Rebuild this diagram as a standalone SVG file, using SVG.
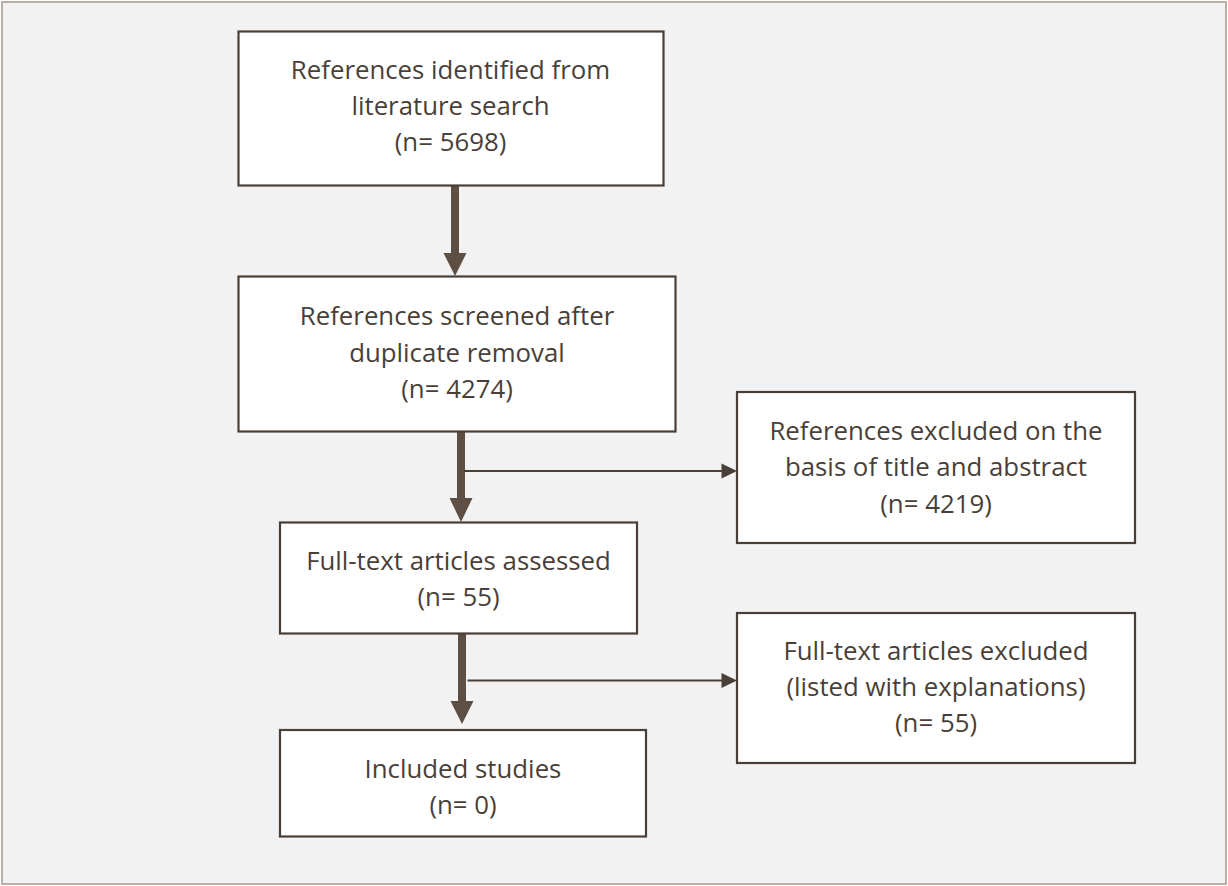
<svg xmlns="http://www.w3.org/2000/svg" width="1228" height="886" viewBox="0 0 1228 886">
<style>
.box{fill:#ffffff;stroke:#4a3f38;stroke-width:2.2}
.t{font-family:"Open Sans","Noto Sans",sans-serif;font-size:25.8px;fill:#4a3f38;text-anchor:middle}
.shaft{stroke:#5e4f44;stroke-width:8;fill:none}
.thin{stroke:#4a3f38;stroke-width:2;fill:none}
.head{fill:#5e4f44}
.headt{fill:#4a3f38}
</style>
<rect x="2" y="2" width="1224" height="882" fill="#f2f2f2" stroke="#bcaea4" stroke-width="2"/>
<g id="connectors">
<line class="shaft" x1="455" y1="186" x2="455" y2="255"/>
<polygon class="head" points="443.5,253 466.5,253 455,276"/>
<line class="shaft" x1="461" y1="432" x2="461" y2="500"/>
<polygon class="head" points="449.5,498 472.5,498 461,522"/>
<line class="thin" x1="464" y1="471" x2="724" y2="471"/>
<polygon class="headt" points="721.5,463.5 737,471 721.5,478.5"/>
<line class="shaft" x1="462" y1="634" x2="462" y2="703"/>
<polygon class="head" points="450.5,701 473.5,701 462,724"/>
<line class="thin" x1="467.5" y1="680.5" x2="724" y2="680.5"/>
<polygon class="headt" points="721.5,673 737,680.5 721.5,688"/>
</g>
<g id="identified">
<rect class="box" x="238.5" y="31.5" width="425" height="154"/>
<text class="t" x="450.5" y="79">References identified from</text>
<text class="t" x="450.5" y="115">literature search</text>
<text class="t" x="450.5" y="151">(n= 5698)</text>
</g>
<g id="screened">
<rect class="box" x="238.5" y="276.5" width="437" height="155"/>
<text class="t" x="457" y="325">References screened after</text>
<text class="t" x="457" y="361.5">duplicate removal</text>
<text class="t" x="457" y="397.5">(n= 4274)</text>
</g>
<g id="excluded-title">
<rect class="box" x="737" y="392" width="398" height="151"/>
<text class="t" x="936" y="440">References excluded on the</text>
<text class="t" x="936" y="476">basis of title and abstract</text>
<text class="t" x="936" y="512.5">(n= 4219)</text>
</g>
<g id="assessed">
<rect class="box" x="280" y="522.5" width="357" height="111"/>
<text class="t" x="458.5" y="569.5">Full-text articles assessed</text>
<text class="t" x="458.5" y="605.5">(n= 55)</text>
</g>
<g id="excluded-fulltext">
<rect class="box" x="737" y="613" width="398" height="150"/>
<text class="t" x="936" y="660">Full-text articles excluded</text>
<text class="t" x="936" y="696">(listed with explanations)</text>
<text class="t" x="936" y="732">(n= 55)</text>
</g>
<g id="included">
<rect class="box" x="280" y="730" width="366" height="106.5"/>
<text class="t" x="463" y="777.5">Included studies</text>
<text class="t" x="463" y="813.5">(n= 0)</text>
</g>
</svg>
